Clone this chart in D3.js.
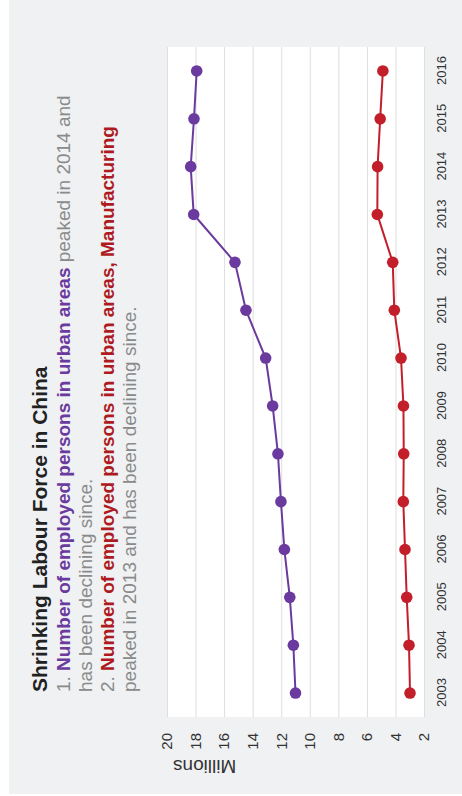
<!DOCTYPE html>
<html>
<head>
<meta charset="utf-8">
<script src="https://cdn.jsdelivr.net/npm/d3@7"></script>
<style>
  body { margin: 0; background: #fff; }
  svg { display: block; font-family: "Liberation Sans", Arial, sans-serif; }
</style>
</head>
<body>
<div id="chart"></div>
<script>
// data (millions)
var years = [2003, 2004, 2005, 2006, 2007, 2008, 2009, 2010, 2011, 2012, 2013, 2014, 2015, 2016];
var urbanEmployed = [11.0, 11.15, 11.4, 11.78, 12.02, 12.23, 12.6, 13.09, 14.47, 15.24, 18.13, 18.34, 18.11, 17.92];
var manufacturing = [2.98, 3.05, 3.21, 3.33, 3.45, 3.42, 3.44, 3.61, 4.08, 4.19, 5.27, 5.25, 5.07, 4.88];
var valueTicks = [2, 4, 6, 8, 10, 12, 14, 16, 18, 20];

var purple = "#6b3a9e",
    red = "#c21f2a";

var W = 462, H = 796;

var svg = d3.select("#chart")
    .append("svg")
    .attr("width", W)
    .attr("height", H);

// card background
svg.append("rect")
    .attr("x", 9).attr("y", 0)
    .attr("width", W - 9).attr("height", 794)
    .attr("fill", "#f0f1f3");

// whole chart is drawn turned a quarter turn to the left
var g = svg.append("g")
    .attr("transform", "translate(0," + H + ") rotate(-90)");

var margin = {top: 167, right: 47, bottom: 38, left: 79},
    width = H - margin.left - margin.right,
    height = W - margin.top - margin.bottom;

var x = d3.scalePoint()
    .domain(years)
    .range([margin.left, margin.left + width])
    .padding(0.5);

var y = d3.scaleLinear()
    .domain([2, 20])
    .range([margin.top + height, margin.top]);

// plot area
g.append("rect")
    .attr("x", margin.left)
    .attr("y", margin.top)
    .attr("width", width)
    .attr("height", height)
    .attr("fill", "#fff");

// grid lines
g.append("g")
    .selectAll("line")
    .data(valueTicks).enter()
    .append("line")
    .attr("x1", margin.left)
    .attr("x2", margin.left + width)
    .attr("y1", function(d){ return y(d) + 0.5; })
    .attr("y2", function(d){ return y(d) + 0.5; })
    .attr("stroke", "#dedede")
    .attr("stroke-width", 1);

// value axis
var yAxis = d3.axisLeft(y)
    .tickValues(valueTicks)
    .tickSize(0)
    .tickPadding(16);

var yg = g.append("g")
    .attr("transform", "translate(" + margin.left + ",0)")
    .call(yAxis);
yg.select(".domain").remove();
yg.selectAll("text")
    .attr("fill", "#333")
    .style("font-size", "15px")
    .style("font-family", "Liberation Sans, Arial, sans-serif");

// year axis
var xAxis = d3.axisBottom(x)
    .tickSize(0)
    .tickPadding(13);

var xg = g.append("g")
    .attr("transform", "translate(0," + (margin.top + height) + ")")
    .call(xAxis);
xg.select(".domain").remove();
xg.selectAll("text")
    .attr("fill", "#333")
    .style("font-size", "13px")
    .style("font-family", "Liberation Sans, Arial, sans-serif");

// axis title
g.append("text")
    .attr("transform", "translate(36," + (margin.top + 6) + ") rotate(-90)")
    .attr("text-anchor", "end")
    .attr("fill", "#333")
    .style("font-size", "19px")
    .text("Millions");

// series
var series = [
    {values: urbanEmployed, color: purple},
    {values: manufacturing, color: red}
];

var line = d3.line()
    .x(function(d, i){ return x(years[i]); })
    .y(function(d){ return y(d); });

series.forEach(function(s){
    g.append("path")
        .datum(s.values)
        .attr("d", line)
        .attr("fill", "none")
        .attr("stroke", s.color)
        .attr("stroke-width", 2);

    g.append("g")
        .selectAll("circle")
        .data(s.values).enter()
        .append("circle")
        .attr("cx", function(d, i){ return x(years[i]); })
        .attr("cy", function(d){ return y(d); })
        .attr("r", 5.8)
        .attr("fill", s.color);
});

// title and notes
var textX = 104;

g.append("text")
    .attr("x", textX)
    .attr("y", 47)
    .attr("fill", "#222")
    .style("font-size", "21px")
    .style("font-weight", "bold")
    .text("Shrinking Labour Force in China");

var grey = "#8a8a8a";
var notes = [
    [["1. ", grey, false], ["Number of employed persons in urban areas", "#6a3a9e", true], [" peaked in 2014 and", grey, false]],
    [["has been declining since.", grey, false]],
    [["2. ", grey, false], ["Number of employed persons in urban areas, Manufacturing", "#ad1a22", true]],
    [["peaked in 2013 and has been declining since.", grey, false]]
];

notes.forEach(function(parts, i){
    var t = g.append("text")
        .attr("x", textX)
        .attr("y", 70 + i * 22)
        .style("font-size", "19px");
    parts.forEach(function(p){
        t.append("tspan")
            .attr("fill", p[1])
            .style("font-weight", p[2] ? "bold" : "normal")
            .text(p[0]);
    });
});
</script>
</body>
</html>
